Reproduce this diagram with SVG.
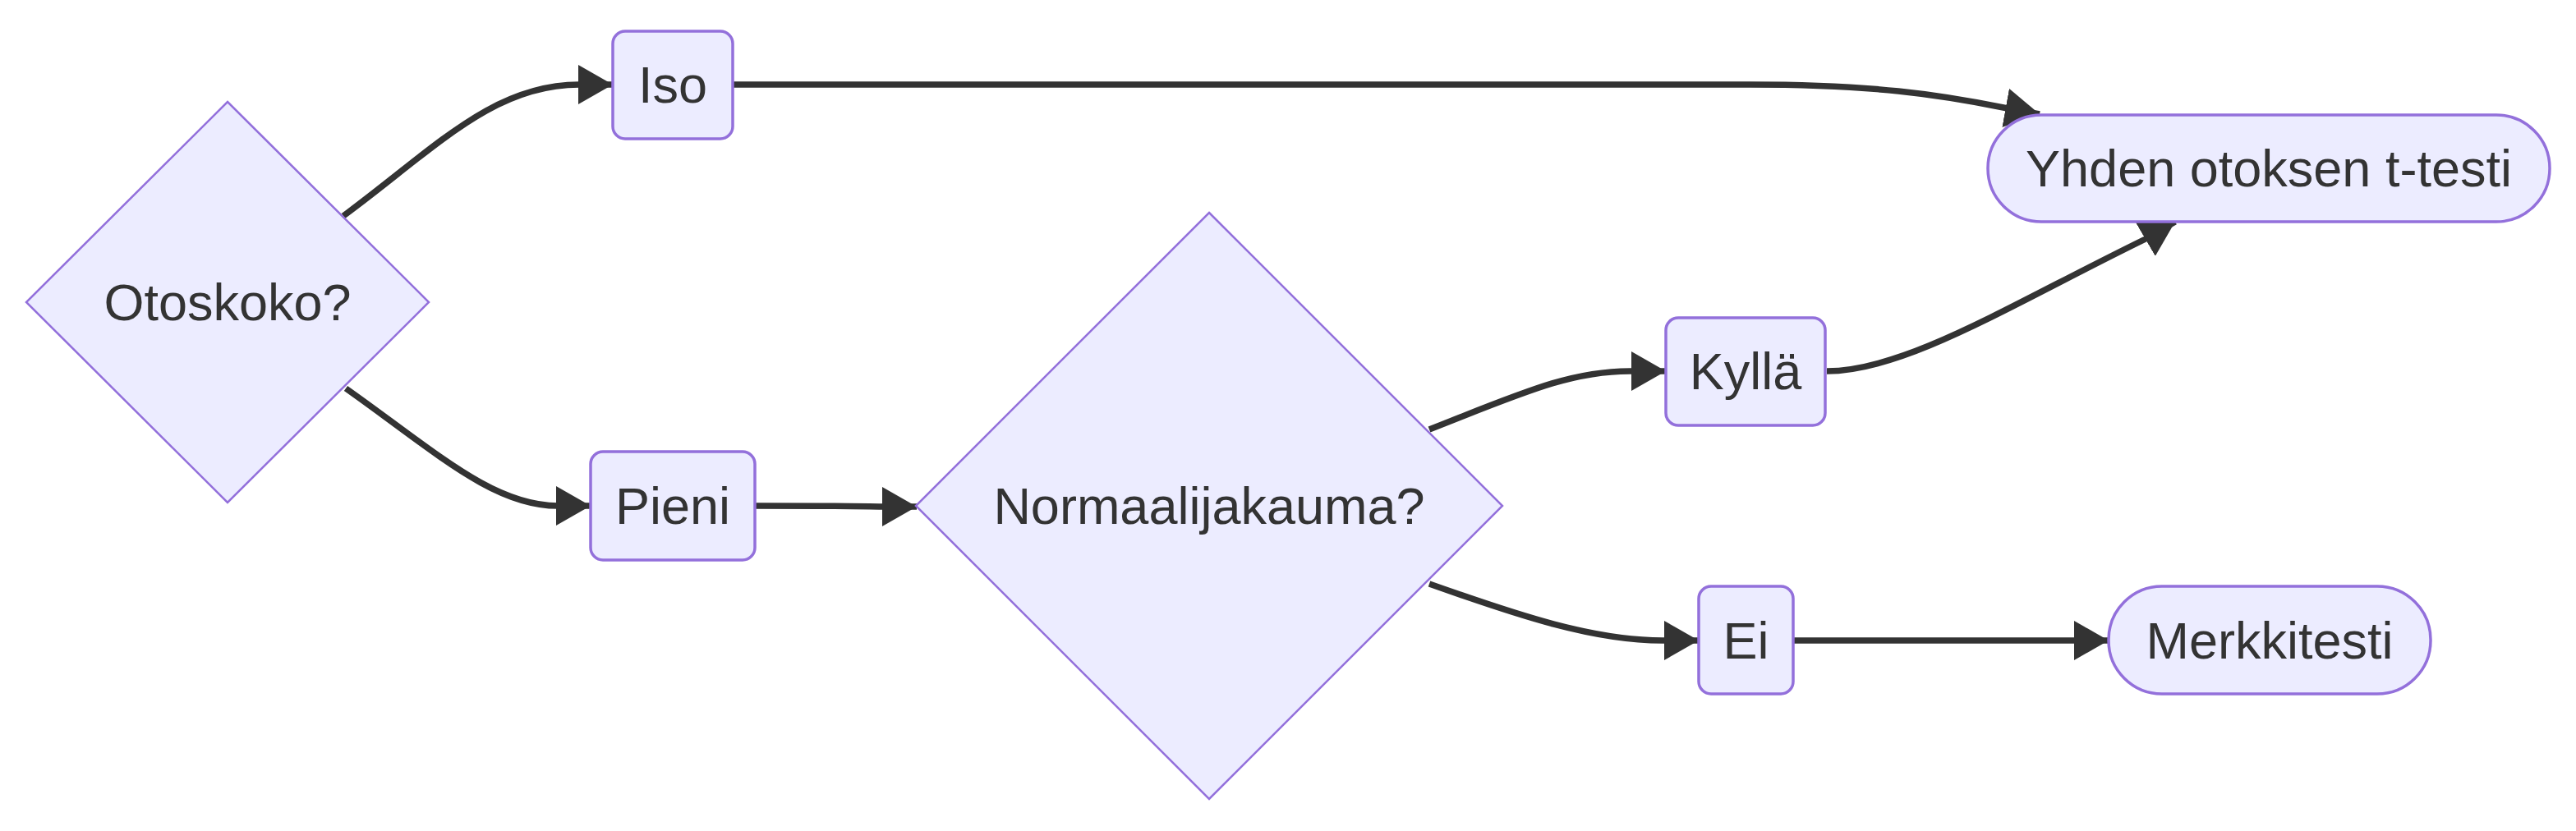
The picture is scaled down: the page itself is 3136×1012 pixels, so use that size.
<svg xmlns="http://www.w3.org/2000/svg" width="3136" height="1012" viewBox="0 0 3136 1012">
<style>
.node{fill:#ECECFF;stroke:#9370DB;stroke-width:3.5}
.dia{fill:#ECECFF;stroke:#9370DB;stroke-width:2.5}
.lbl{font-family:"Liberation Sans",Arial,sans-serif;font-size:63px;fill:#333;text-anchor:middle}
.edge{fill:none;stroke:#333;stroke-width:7.5}
</style>
<defs>
<marker id="arr" markerUnits="userSpaceOnUse" viewBox="0 0 42 48" markerWidth="42" markerHeight="48" refX="42" refY="24" orient="auto">
<path d="M0,0 L42,24 L0,48 z" fill="#333"/>
</marker>
</defs>
<g id="connectors">
<path class="edge" d="M418,263 C530,180 600,103 705,103 L746,103" marker-end="url(#arr)"/>
<path class="edge" d="M421,473 C530,550 600,616 679,616 L719,616" marker-end="url(#arr)"/>
<path class="edge" d="M919,616 C1000,616 1040,616 1075,617 L1116,617" marker-end="url(#arr)"/>
<path class="edge" d="M1740,523 C1850,480 1910,452 1984,452 L2028,452" marker-end="url(#arr)"/>
<path class="edge" d="M1740,711 C1850,750 1940,780 2024,780 L2068,780" marker-end="url(#arr)"/>
<path class="edge" d="M2183,780 L2567,780" marker-end="url(#arr)"/>
<path class="edge" d="M2224,452 C2320,452 2450,370 2612,291 L2648,270" marker-end="url(#arr)"/>
<path class="edge" d="M892,103 L2130,103 C2280,103 2360,115 2439,131 L2483,139" marker-end="url(#arr)"/>
</g>
<g id="otoskoko">
<polygon class="dia" points="277,124 522,368 277,612 32,368"/>
<text class="lbl" x="277" y="390">Otoskoko?</text>
</g>
<g id="iso">
<rect class="node" x="746" y="38" width="146" height="131" rx="15"/>
<text class="lbl" x="819" y="125">Iso</text>
</g>
<g id="pieni">
<rect class="node" x="719" y="550" width="200" height="132" rx="15"/>
<text class="lbl" x="819" y="638">Pieni</text>
</g>
<g id="normaali">
<polygon class="dia" points="1472,259 1829,616 1472,973 1115,616"/>
<text class="lbl" x="1472" y="638">Normaalijakauma?</text>
</g>
<g id="kylla">
<rect class="node" x="2028" y="387" width="194" height="131" rx="15"/>
<text class="lbl" x="2125" y="474">Kyllä</text>
</g>
<g id="ei">
<rect class="node" x="2068" y="714" width="115" height="131" rx="15"/>
<text class="lbl" x="2125.5" y="802">Ei</text>
</g>
<g id="merkkitesti">
<rect class="node" x="2567" y="714" width="392" height="131" rx="65"/>
<text class="lbl" x="2763" y="802">Merkkitesti</text>
</g>
<g id="yhden">
<rect class="node" x="2420" y="140" width="684" height="130" rx="65"/>
<text class="lbl" x="2762" y="227">Yhden otoksen t-testi</text>
</g>
</svg>
